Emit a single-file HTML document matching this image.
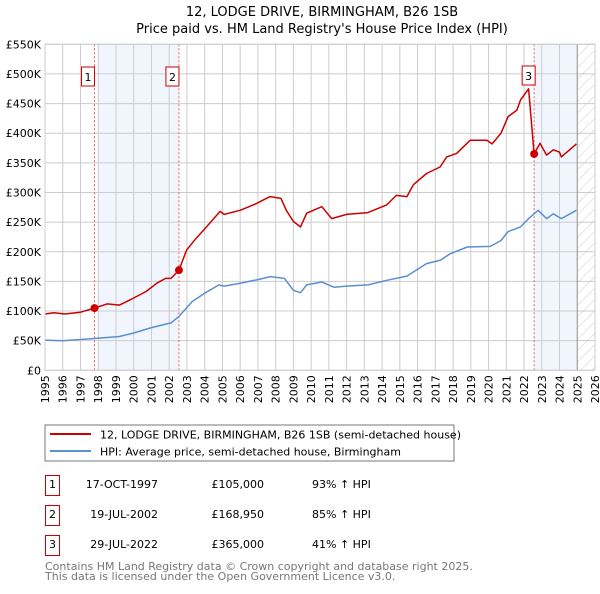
<!DOCTYPE html>
<html><head><meta charset="utf-8"><style>
body{margin:0;background:#fff;font-family:"DejaVu Sans","Liberation Sans",sans-serif;}
svg text{font-family:"DejaVu Sans","Liberation Sans",sans-serif;}
</style></head><body>
<svg id="c" width="600" height="590" xmlns="http://www.w3.org/2000/svg">
<defs><pattern id="hatch" width="8" height="8" patternUnits="userSpaceOnUse" patternTransform="rotate(45)"><line x1="0" y1="0" x2="0" y2="8" stroke="#ccc" stroke-width="1"/></pattern></defs>
<text x="322" y="16" text-anchor="middle" font-size="13">12, LODGE DRIVE, BIRMINGHAM, B26 1SB</text>
<text x="322" y="33" text-anchor="middle" font-size="13">Price paid vs. HM Land Registry's House Price Index (HPI)</text>
<g id="plot"></g>
<rect x="45" y="425" width="409" height="36" fill="#fff" stroke="#777"/>
<line x1="50" y1="434" x2="91" y2="434" stroke="#cc0000" stroke-width="2"/>
<text x="100" y="438.5" font-size="11">12, LODGE DRIVE, BIRMINGHAM, B26 1SB (semi-detached house)</text>
<line x1="50" y1="451" x2="91" y2="451" stroke="#5b8fd0" stroke-width="2"/>
<text x="100" y="455.5" font-size="11">HPI: Average price, semi-detached house, Birmingham</text>
<g font-size="11">
<rect x="45.5" y="475.5" width="14" height="20" fill="none" stroke="#c00"/><text x="52.5" y="488" text-anchor="middle">1</text>
<text x="158" y="488" text-anchor="end">17-OCT-1997</text><text x="264" y="488" text-anchor="end">£105,000</text><text x="312" y="488">93% ↑ HPI</text>
<rect x="45.5" y="505.5" width="14" height="20" fill="none" stroke="#c00"/><text x="52.5" y="518" text-anchor="middle">2</text>
<text x="158" y="518" text-anchor="end">19-JUL-2002</text><text x="264" y="518" text-anchor="end">£168,950</text><text x="312" y="518">85% ↑ HPI</text>
<rect x="45.5" y="535.5" width="14" height="20" fill="none" stroke="#c00"/><text x="52.5" y="548" text-anchor="middle">3</text>
<text x="158" y="548" text-anchor="end">29-JUL-2022</text><text x="264" y="548" text-anchor="end">£365,000</text><text x="312" y="548">41% ↑ HPI</text>
</g>
<text x="45" y="570" font-size="11" fill="#777">Contains HM Land Registry data © Crown copyright and database right 2025.</text>
<text x="45" y="580" font-size="11" fill="#777">This data is licensed under the Open Government Licence v3.0.</text>
</svg>
<script>
const yearTicks=[1995,1996,1997,1998,1999,2000,2001,2002,2003,2004,2005,2006,2007,2008,2009,2010,2011,2012,2013,2014,2015,2016,2017,2018,2019,2020,2021,2022,2023,2024,2025,2026];
const valueTicks=[0,50,100,150,200,250,300,350,400,450,500,550];
const valueLabels=["£0","£50K","£100K","£150K","£200K","£250K","£300K","£350K","£400K","£450K","£500K","£550K"];
const priceYears=[1995,1995.5,1996.1,1997,1997.79,1998.5,1999.2,2000,2000.7,2001.3,2001.8,2002.1,2002.55,2002.98,2003.5,2004.1,2004.87,2005.1,2006,2006.9,2007.68,2008.3,2008.6,2009,2009.4,2009.75,2010.6,2011.16,2012,2013.2,2014.26,2014.8,2015.4,2015.76,2016.5,2017.27,2017.64,2018.2,2018.96,2019.9,2020.2,2020.7,2021.1,2021.6,2021.8,2022.26,2022.57,2022.9,2023.27,2023.65,2024.0,2024.1,2024.95];
const priceValues=[95,97,95,98,105,112,110,122,133,147,155,155,169,203,222,242,268,263,270,281,293,290,270,251,242,265,276,256,263,266,279,295,293,313,332,343,360,366,388,388,382,400,428,439,456,475,365,383,363,372,368,360,382];
const hpiYears=[1995,1996,1997,1997.79,1999.2,2000,2001,2002.1,2002.55,2003.3,2004,2004.8,2005.1,2006,2007,2007.7,2008.5,2009,2009.4,2009.75,2010.6,2011.3,2012,2013.2,2014.3,2015.4,2016.5,2017.3,2017.8,2018.8,2020.1,2020.7,2021.1,2021.8,2022.26,2022.8,2023.27,2023.65,2024.1,2024.95];
const hpiValues=[51,50,52,53.6,57,63,72,80,91,116,130,144,142,147,153,158,155,135,131,144,149,140,142,144,152,159,180,186,196,208,209,219,234,242,256,270,256,264,256,270];
const saleYears=[1997.79,2002.55,2022.57];
const saleValues=[105,168.95,365];
const saleLabels=["1","2","3"];

const X0=45,X1=595,Y0=370.3,Y1=44.3;
const xs=y=>X0+(y-1995)/(2026-1995)*(X1-X0);
const ys=v=>Y0-v/550*(Y0-Y1);
const NS="http://www.w3.org/2000/svg";
const g=document.getElementById('plot');
function mk(t,a){const e=document.createElementNS(NS,t);for(const k in a)e.setAttribute(k,a[k]);g.appendChild(e);return e;}

let r=mk('rect',{x:xs(1998),y:Y1,width:xs(2002.55)-xs(1998),height:Y0-Y1,fill:'#eef3fc',opacity:0.8});


r=mk('rect',{x:xs(2022.57),y:Y1,width:xs(2025)-xs(2022.57),height:Y0-Y1,fill:'#eef3fc',opacity:0.8});


r=mk('rect',{x:xs(2025),y:Y1,width:X1-xs(2025),height:Y0-Y1,fill:'url(#hatch)'});



yearTicks.forEach(yr=>{
  const x=xs(yr);
  const l=mk('line',{x1:x,y1:Y1,x2:x,y2:Y0,stroke:'#ccc','stroke-width':1});
  
  
  const t=mk('text',{x:0,y:0,'font-size':11,'text-anchor':'end',transform:`translate(${x+4},${Y0+5}) rotate(-90)`});
  t.textContent=yr;
  
  
});
valueTicks.forEach((v,i)=>{
  const y=ys(v);
  const l=mk('line',{x1:X0,y1:y,x2:X1,y2:y,stroke:'#ccc','stroke-width':1});
  
  
  const t=mk('text',{x:X0-4,y:y+4,'font-size':11,'text-anchor':'end'});
  t.textContent=valueLabels[i];
  
  
});
const vl=mk('line',{x1:xs(2025),y1:Y1,x2:xs(2025),y2:Y0,stroke:'#999','stroke-width':1});



saleYears.forEach((yr,i)=>{
  const l=mk('line',{x1:xs(yr),y1:Y1,x2:xs(yr),y2:Y0,stroke:'#f06060','stroke-width':1,'stroke-dasharray':'2,2'});
  
  
});

const pl=(xa,va)=>xa.map((y,i)=>xs(y).toFixed(1)+','+ys(va[i]).toFixed(1)).join(' ');
const hp=mk('polyline',{points:pl(hpiYears,hpiValues),fill:'none',stroke:'#5b8fd0','stroke-width':1.5,'stroke-linejoin':'round'});


const pp=mk('polyline',{points:pl(priceYears,priceValues),fill:'none',stroke:'#cc0000','stroke-width':1.5,'stroke-linejoin':'round'});



saleYears.forEach((yr,i)=>{
  const c=mk('circle',{cx:xs(yr),cy:ys(saleValues[i]),r:4,fill:'#cc0000'});
  
  
  const bx=xs(yr)-(i==2?10:11)-2;
  const b=mk('rect',{x:bx,y:i==2?66:67,width:13,height:19,fill:'#fff',stroke:'#c00','stroke-width':1});
  
  
  const t=mk('text',{x:bx+6.5,y:i==2?80:81,'font-size':11,'text-anchor':'middle'});
  t.textContent=saleLabels[i];
  
  
});
const fr=mk('rect',{x:X0,y:Y1,width:X1-X0,height:Y0-Y1,fill:'none',stroke:'#ccc'});


</script>
</body></html>
